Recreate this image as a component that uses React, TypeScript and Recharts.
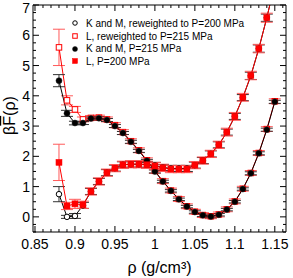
import React from 'react';
import {
  ComposedChart,
  Line,
  XAxis,
  YAxis,
  ErrorBar,
  Legend
} from 'recharts';

const FONT = '"Liberation Sans", Arial, Helvetica, sans-serif';
const RED = '#ff0000';
const RED_ERR = '#ff5a5a';

// density grid (g/cm^3)
const RHO = [0.88, 0.89, 0.9, 0.91, 0.92, 0.93, 0.94, 0.95, 0.96, 0.97, 0.98, 0.99, 1, 1.01, 1.02, 1.03, 1.04, 1.05, 1.06, 1.07, 1.08, 1.09, 1.1, 1.11, 1.12, 1.13, 1.14, 1.15];

// K and M, reweighted to P=200 MPa (open circles)
const KM_RW = [0.75, 0.0, 0.03, 0.38, 0.84, 1.17, 1.46, 1.61, 1.72, 1.74, 1.74, 1.73, 1.7, 1.63, 1.6, 1.6, 1.6, 1.71, 1.86, 2.08, 2.38, 2.8, 3.32, 3.94, 4.66, 5.56, 6.58, 7.7];
const KM_RW_ERR = [0.25, 0.05, 0.08, 0.1, 0.1, 0.1, 0.1, 0.1, 0.1, 0.1, 0.1, 0.1, 0.1, 0.1, 0.1, 0.1, 0.1, 0.1, 0.1, 0.1, 0.1, 0.1, 0.1, 0.1, 0.12, 0.12, 0.12, 0.12];

// L, reweighted to P=215 MPa (open squares)
const L_RW = [5.6, 3.85, 3.55, 3.22, 3.27, 3.28, 3.22, 3.03, 2.8, 2.5, 2.2, 1.87, 1.52, 1.18, 0.87, 0.59, 0.35, 0.17, 0.06, 0.02, 0.08, 0.25, 0.51, 0.93, 1.45, 2.11, 2.9, 3.82];
const L_RW_ERR = [0.6, 0.15, 0.1, 0.08, 0.08, 0.08, 0.08, 0.08, 0.08, 0.08, 0.08, 0.08, 0.08, 0.08, 0.08, 0.08, 0.08, 0.08, 0.08, 0.08, 0.08, 0.08, 0.08, 0.08, 0.08, 0.08, 0.08, 0.08];

// K and M, P=215 MPa (filled circles)
const KM = [4.5, 3.42, 3.1, 3.1, 3.25, 3.26, 3.2, 3.0, 2.77, 2.48, 2.18, 1.85, 1.5, 1.17, 0.86, 0.58, 0.34, 0.16, 0.05, 0.01, 0.07, 0.24, 0.5, 0.92, 1.44, 2.1, 2.88, 3.8];
const KM_ERR = [0.2, 0.1, 0.06, 0.05, 0.05, 0.05, 0.05, 0.05, 0.05, 0.05, 0.05, 0.05, 0.05, 0.04, 0.04, 0.04, 0.04, 0.04, 0.04, 0.04, 0.04, 0.04, 0.04, 0.04, 0.05, 0.05, 0.05, 0.05];

// L, P=200 MPa (filled squares)
const L = [1.8, 0.36, 0.43, 0.4, 0.84, 1.17, 1.46, 1.61, 1.72, 1.74, 1.74, 1.72, 1.68, 1.62, 1.58, 1.58, 1.58, 1.71, 1.86, 2.08, 2.38, 2.8, 3.32, 3.95, 4.67, 5.56, 6.58, 7.7];
const L_ERR = [0.6, 0.12, 0.15, 0.12, 0.12, 0.12, 0.12, 0.12, 0.12, 0.12, 0.12, 0.12, 0.12, 0.12, 0.12, 0.12, 0.12, 0.12, 0.12, 0.12, 0.12, 0.13, 0.13, 0.13, 0.14, 0.14, 0.15, 0.15];

const SERIES_NAMES = [
  'K and M, reweighted to P=200 MPa',
  'L, reweighted to P=215 MPa',
  'K and M, P=215 MPa',
  'L, P=200 MPa'
];

const X_MAJOR = [0.85, 0.9, 0.95, 1, 1.05, 1.1, 1.15];
const X_TICKS = [0.85, 0.86, 0.87, 0.88, 0.89, 0.9, 0.91, 0.92, 0.93, 0.94, 0.95, 0.96, 0.97, 0.98, 0.99, 1, 1.01, 1.02, 1.03, 1.04, 1.05, 1.06, 1.07, 1.08, 1.09, 1.1, 1.11, 1.12, 1.13, 1.14, 1.15, 1.16];
const Y_MAJOR = [0, 1, 2, 3, 4, 5, 6, 7];
const Y_TICKS = [-0.5, -0.25, 0, 0.25, 0.5, 0.75, 1, 1.25, 1.5, 1.75, 2, 2.25, 2.5, 2.75, 3, 3.25, 3.5, 3.75, 4, 4.25, 4.5, 4.75, 5, 5.25, 5.5, 5.75, 6, 6.25, 6.5, 6.75, 7];

const X_DOMAIN = [0.8475, 1.164];
const Y_DOMAIN = [-0.5, 7];

const data = RHO.map((rho, i) => ({
  rho,
  kmRw: KM_RW[i],
  kmRwErr: KM_RW_ERR[i],
  lRw: L_RW[i],
  lRwErr: L_RW_ERR[i],
  km: KM[i],
  kmErr: KM_ERR[i],
  l: L[i],
  lErr: L_ERR[i]
}));

type Shape = 'openCircle' | 'openSquare' | 'circle' | 'square';
const SHAPES: Shape[] = ['openCircle', 'openSquare', 'circle', 'square'];

const marker = (shape: Shape, cx: number, cy: number, s: number, key?: string | number) => {
  if (shape === 'openCircle')
    return <circle key={key} cx={cx} cy={cy} r={s * 0.5} fill="#fff" stroke="#000" strokeWidth={1} />;
  if (shape === 'circle')
    return <circle key={key} cx={cx} cy={cy} r={s * 0.5} fill="#000" stroke="#222" strokeWidth={0.5} />;
  if (shape === 'openSquare')
    return <rect key={key} x={cx - s / 2} y={cy - s / 2} width={s} height={s} fill="#fff" stroke={RED} strokeWidth={1} />;
  return <rect key={key} x={cx - s / 2} y={cy - s / 2} width={s} height={s} fill={RED} stroke={RED} strokeWidth={0.5} />;
};

const dotFor = (shape: Shape) => (p: any) => {
  if (p.cx == null || p.cy == null) return <g key={p.index} />;
  return marker(shape, p.cx, p.cy, shape.startsWith('open') ? 5.5 : 6, p.index);
};

const XTick = (side: 'bottom' | 'top') => (p: any) => {
  const v = p.payload.value;
  const major = X_MAJOR.includes(v);
  const len = major ? 6 : 3;
  const dir = side === 'bottom' ? -1 : 1;
  return (
    <g>
      <line x1={p.x} x2={p.x} y1={p.y} y2={p.y + dir * len} stroke="#000" strokeWidth={1} />
      {side === 'bottom' && major && (
        <text x={p.x} y={p.y + 17} textAnchor="middle" fontSize={14} fontFamily={FONT} fill="#000">
          {String(v)}
        </text>
      )}
    </g>
  );
};

const YTick = (side: 'left' | 'right') => (p: any) => {
  const v = p.payload.value;
  const major = Y_MAJOR.includes(v);
  const len = major ? 6 : 3;
  const dir = side === 'left' ? 1 : -1;
  // keep the topmost label fully inside the picture
  const ty = Math.max(p.y, 8);
  return (
    <g>
      <line x1={p.x} x2={p.x + dir * len} y1={p.y} y2={p.y} stroke="#000" strokeWidth={1} />
      {side === 'left' && major && (
        <text x={p.x - 3} y={ty} dy="0.36em" textAnchor="end" fontSize={14} fontFamily={FONT} fill="#000">
          {String(v)}
        </text>
      )}
    </g>
  );
};

const LegendBox = () => (
  <div style={{ fontFamily: FONT, fontSize: 10, color: '#000' }}>
    {SERIES_NAMES.map((name, i) => (
      <div key={name} style={{ display: 'flex', alignItems: 'center', height: 12.7, whiteSpace: 'nowrap' }}>
        <svg width={14} height={12} style={{ display: 'block' }}>
          {marker(SHAPES[i], 7, 6, SHAPES[i].startsWith('open') ? 4.5 : 5)}
        </svg>
        <span style={{ marginLeft: 4 }}>{name}</span>
      </div>
    ))}
  </div>
);

const YLabel = (p: any) => {
  const vb = p.viewBox;
  const cx = 9;
  const cy = vb.y + vb.height / 2 - 3;
  return (
    <text x={cx} y={cy} transform={`rotate(-90 ${cx} ${cy})`} textAnchor="middle" dy="0.35em" fontSize={16} fontFamily={FONT} fill="#000">
      <tspan>β</tspan>
      <tspan style={{ textDecoration: 'overline' }}>F</tspan>
      <tspan>(ρ)</tspan>
    </text>
  );
};

const XLabel = (p: any) => {
  const vb = p.viewBox;
  return (
    <text x={vb.x + vb.width / 2} y={vb.y + 41} textAnchor="middle" fontSize={16} fontFamily={FONT} fill="#000">
      ρ (g/cm³)
    </text>
  );
};

export default function App() {
  return (
    <div style={{ position: 'absolute', left: 0, top: 0, background: '#fff' }}>
      <ComposedChart width={293} height={278} data={data} margin={{ top: 0, right: 0, bottom: 0, left: 0 }}>
        <XAxis
          xAxisId="b"
          dataKey="rho"
          type="number"
          orientation="bottom"
          domain={X_DOMAIN}
          allowDataOverflow
          ticks={X_TICKS}
          interval={0}
          height={46}
          tickSize={0}
          tickMargin={0}
          tickLine={false}
          tick={XTick('bottom')}
          axisLine={{ stroke: '#000' }}
          label={<XLabel />}
        />
        <XAxis
          xAxisId="t"
          dataKey="rho"
          type="number"
          orientation="top"
          domain={X_DOMAIN}
          allowDataOverflow
          ticks={X_TICKS}
          interval={0}
          height={5}
          tickSize={0}
          tickMargin={0}
          tickLine={false}
          tick={XTick('top')}
          axisLine={{ stroke: '#000' }}
        />
        <YAxis
          yAxisId="l"
          type="number"
          orientation="left"
          domain={Y_DOMAIN}
          allowDataOverflow
          ticks={Y_TICKS}
          interval={0}
          width={33}
          tickSize={0}
          tickMargin={0}
          tickLine={false}
          tick={YTick('left')}
          axisLine={{ stroke: '#000' }}
          label={<YLabel />}
        />
        <YAxis
          yAxisId="r"
          type="number"
          orientation="right"
          domain={Y_DOMAIN}
          allowDataOverflow
          ticks={Y_TICKS}
          interval={0}
          width={7}
          tickSize={0}
          tickMargin={0}
          tickLine={false}
          tick={YTick('right')}
          axisLine={{ stroke: '#000' }}
        />
        <Legend
          layout="vertical"
          align="center"
          verticalAlign="middle"
          wrapperStyle={{ left: 68, top: 17, width: 'auto' }}
          content={<LegendBox />}
        />
        <Line
          xAxisId="b"
          yAxisId="l"
          dataKey="kmRw"
          name={SERIES_NAMES[0]}
          stroke="#000"
          strokeWidth={1}
          dot={dotFor('openCircle')}
          activeDot={false}
          isAnimationActive={false}
        >
          <ErrorBar dataKey="kmRwErr" width={6} stroke="#333" strokeWidth={1} direction="y" />
        </Line>
        <Line
          xAxisId="b"
          yAxisId="l"
          dataKey="lRw"
          name={SERIES_NAMES[1]}
          stroke={RED}
          strokeWidth={1}
          dot={dotFor('openSquare')}
          activeDot={false}
          isAnimationActive={false}
        >
          <ErrorBar dataKey="lRwErr" width={6} stroke={RED_ERR} strokeWidth={1} direction="y" />
        </Line>
        <Line
          xAxisId="b"
          yAxisId="l"
          dataKey="km"
          name={SERIES_NAMES[2]}
          stroke="#000"
          strokeWidth={1}
          dot={dotFor('circle')}
          activeDot={false}
          isAnimationActive={false}
        >
          <ErrorBar dataKey="kmErr" width={6} stroke="#333" strokeWidth={1} direction="y" />
        </Line>
        <Line
          xAxisId="b"
          yAxisId="l"
          dataKey="l"
          name={SERIES_NAMES[3]}
          stroke={RED}
          strokeWidth={1}
          dot={dotFor('square')}
          activeDot={false}
          isAnimationActive={false}
        >
          <ErrorBar dataKey="lErr" width={6} stroke={RED_ERR} strokeWidth={1} direction="y" />
        </Line>
      </ComposedChart>
    </div>
  );
}
